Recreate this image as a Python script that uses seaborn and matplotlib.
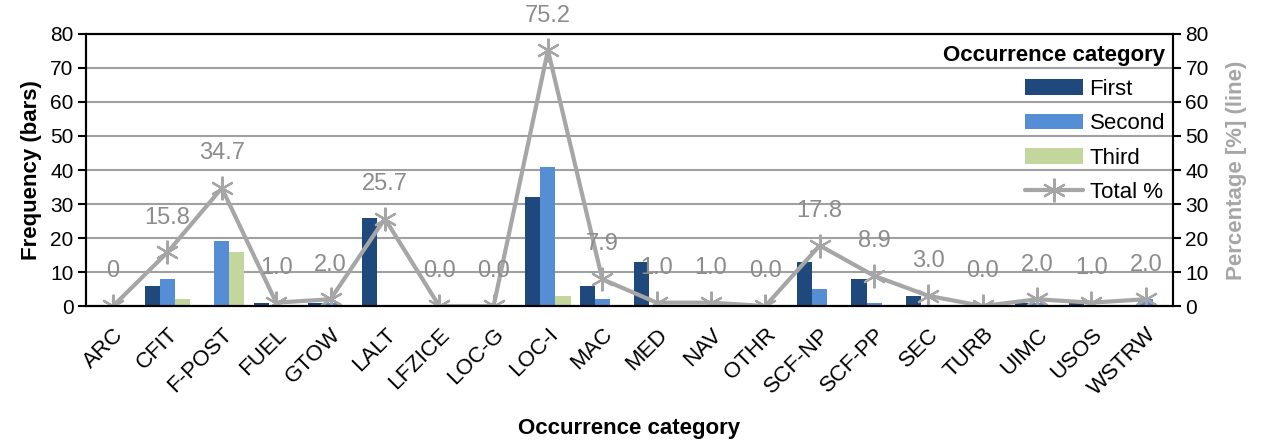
import matplotlib
matplotlib.use("Agg")
import matplotlib.pyplot as plt
import numpy as np
import pandas as pd
import seaborn as sns

categories = ["ARC", "CFIT", "F-POST", "FUEL", "GTOW", "LALT", "LFZICE", "LOC-G",
              "LOC-I", "MAC", "MED", "NAV", "OTHR", "SCF-NP", "SCF-PP", "SEC",
              "TURB", "UIMC", "USOS", "WSTRW"]
first = [0, 6, 0, 1, 1, 26, 0, 0, 32, 6, 13, 0, 0, 13, 8, 3, 0, 1, 1, 0]
second = [0, 8, 19, 0, 1, 0, 0, 0, 41, 2, 0, 0, 0, 5, 1, 0, 0, 1, 0, 2]
third = [0, 2, 16, 0, 0, 0, 0, 0, 3, 0, 0, 0, 0, 0, 0, 0, 0, 0, 0, 0]
total_pct = [0, 15.8, 34.7, 1.0, 2.0, 25.7, 0.0, 0.0, 75.2, 7.9, 1.0, 1.0, 0.0,
             17.8, 8.9, 3.0, 0.0, 2.0, 1.0, 2.0]
pct_labels = ["0"] + [f"{v:.1f}" for v in total_pct[1:]]

colors = {"First": "#1F497D", "Second": "#558ED5", "Third": "#C3D69B"}
line_color = "#A6A6A6"

df = pd.DataFrame({
    "category": categories * 3,
    "freq": first + second + third,
    "order": ["First"] * len(categories) + ["Second"] * len(categories) + ["Third"] * len(categories),
})

sns.set_style("white")
plt.rcParams["font.family"] = ["Liberation Sans", "DejaVu Sans"]
plt.rcParams["font.size"] = 16
plt.rcParams["text.color"] = "black"
plt.rcParams["axes.labelcolor"] = "black"
plt.rcParams["xtick.color"] = "black"
plt.rcParams["ytick.color"] = "black"

fig, ax = plt.subplots(figsize=(12.64, 4.41), dpi=100)
fig.subplots_adjust(left=0.068, right=0.928, top=0.923, bottom=0.306)

sns.barplot(data=df, x="category", y="freq", hue="order", palette=colors,
            width=0.83, gap=0, saturation=1, linewidth=0, ax=ax, zorder=2)
ax.set_ylim(0, 80)
ax.set_yticks(np.arange(0, 81, 10))
ax.set_xlim(-0.5, len(categories) - 0.5)
ax.yaxis.grid(True, color="#A0A0A0", linewidth=1.5, zorder=0)
ax.set_axisbelow(True)
ax.set_xlabel("Occurrence category", fontweight="bold", fontsize=16, labelpad=13)
ax.set_ylabel("Frequency (bars)", fontweight="bold", fontsize=16, labelpad=6)
ax.set_xticks(np.arange(len(categories)))
ax.set_xticklabels(categories, rotation=45, ha="right", rotation_mode="anchor")
ax.set_xticks(np.arange(-0.5, len(categories)), minor=True)
ax.tick_params(axis="x", which="major", length=0, pad=13, labelsize=16)
ax.tick_params(axis="x", which="minor", length=6, width=1.5, direction="out", color="black")
ax.tick_params(axis="y", length=6, width=1.5, direction="out", left=True, labelsize=15, pad=3)
for s in ax.spines.values():
    s.set_color("black")
    s.set_linewidth(1.5)

ax2 = ax.twinx()
sns.lineplot(x=np.arange(len(categories)), y=total_pct, ax=ax2, color=line_color,
             linewidth=3, marker=(6, 2, 0), markersize=17, markeredgewidth=1.6,
             markeredgecolor=line_color, label="Total %", legend=False)
ax2.set_ylim(0, 80)
ax2.set_yticks(np.arange(0, 81, 10))
ax2.set_ylabel("Percentage [%] (line)", fontweight="bold", fontsize=16,
               color="#A6A6A6", labelpad=12)
ax2.tick_params(axis="y", length=6, width=1.5, direction="out", right=True, labelsize=15, pad=3)
for s in ax2.spines.values():
    s.set_color("black")
    s.set_linewidth(1.5)

for i, (v, lab) in enumerate(zip(total_pct, pct_labels)):
    ax2.annotate(lab, (i, v), xytext=(0, 25), textcoords="offset points",
                 ha="center", va="center", color="#8C8C8C", fontsize=17,
                 annotation_clip=False)

h1, l1 = ax.get_legend_handles_labels()
ax.get_legend().remove()
h2, l2 = ax2.get_legend_handles_labels()
leg = ax2.legend(h1 + h2, l1 + l2, title="Occurrence category", loc="upper right",
                 bbox_to_anchor=(1.005, 1.01), frameon=False, fontsize=16,
                 title_fontproperties={"weight": "bold", "size": 16},
                 alignment="right", labelspacing=0.6, handlelength=2.6,
                 handletextpad=0.3, borderaxespad=0.2)

fig.savefig("out.png", dpi=100)
